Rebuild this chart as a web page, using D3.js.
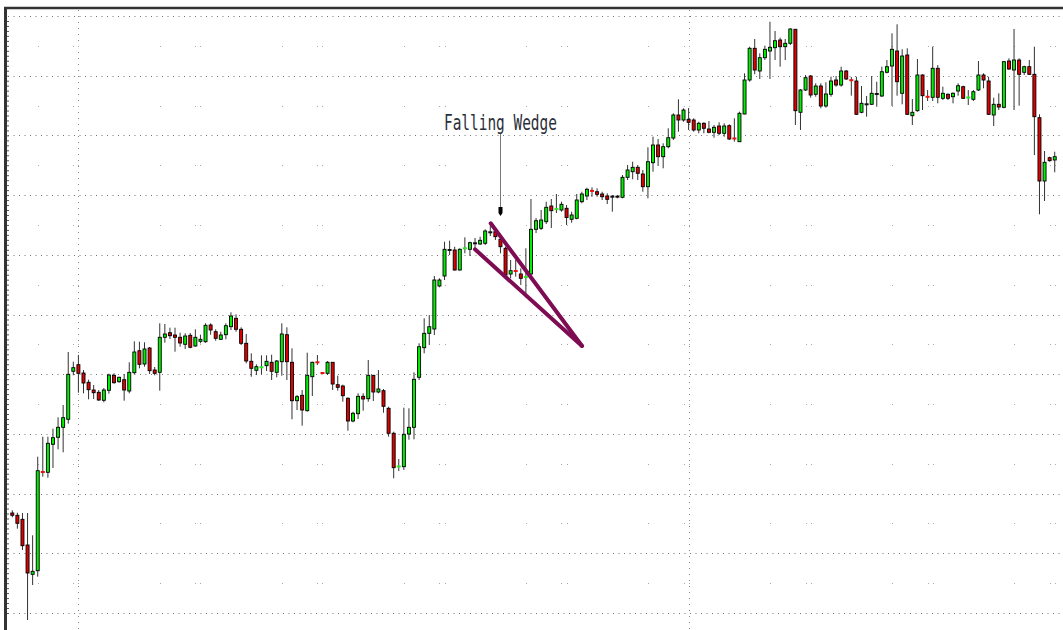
<!DOCTYPE html>
<html lang="en">
<head>
  <meta charset="utf-8">
  <title>Falling Wedge</title>
  <script src="https://cdn.jsdelivr.net/npm/d3@7"></script>
  <style>
  body{ margin:0; background:#fff; }
  svg{ display:block; }
  </style>
</head>
<body>
<script>
// bar prices (one value per bar, oldest first)
var open = [1500,1497.7,1493.7,1468,1438.7,1442.3,1541.3,1540.7,1568.7,1575.7,
1585.7,1593.7,1641.7,1648.3,1640,1630.7,1623,1620.7,1612.7,1622.7,
1637.7,1631.3,1633.3,1622,1640.3,1662.3,1649,1665,1643,1640.7,
1675.7,1680.3,1678,1675.7,1668.7,1677.7,1667,1671.7,1671.3,1688,
1681.3,1673.7,1678.3,1686.3,1694.7,1683.7,1669.7,1651.7,1642.7,1645.3,
1647.3,1650.7,1640.7,1651.3,1678.3,1650.7,1612.3,1617.7,1602.3,1636.3,
1651,1640.3,1639.7,1650.7,1628.3,1627,1614.7,1592,1599.3,1616.7,
1614.3,1637.7,1621,1622.3,1604.7,1579.7,1546.2,1546.3,1579,1585.7,
1635.7,1665.3,1679.7,1684,1727,1737,1763,1763,1743,1764.3,
1763.7,1769.7,1769,1769.7,1780.7,1781.3,1773.7,1764.7,1739,1742.3,
1739,1735.5,1739,1783.7,1784.7,1791.3,1807,1803.5,1803,1804.7,
1793.7,1794.7,1811.3,1817,1822.4,1821.3,1819,1817,1816.3,1816.3,
1815.7,1835.7,1841.3,1845.7,1839,1826.3,1850.3,1868,1856.3,1866.3,
1875,1898,1893,1893.7,1893,1883,1889.7,1884,1880.7,1887,
1879.7,1887.3,1874.8,1871.3,1899,1933,1964.7,1942,1955.3,1962,
1965.3,1973,1966.3,1969.7,1983.7,1900.7,1923,1937,1918.7,1927,
1907,1918.7,1933,1928,1942,1933.1,1932,1900.7,1908.7,1908.7,
1919,1917,1940.7,1947,1962,1919.7,1958,1897.3,1902.3,1938,
1916.5,1915.7,1944.7,1914.7,1918.7,1916.3,1922,1926.3,1915.2,1913.7,
1923,1938,1932,1898,1908.7,1905.7,1952,1943,1953,1940.7,
1946.3,1938.7,1895.3,1832,1855.3,1853];

var high = [1502.7,1500.3,1500,1500,1477.7,1556.3,1576.3,1576.3,1584.3,1595.7,
1608,1661,1651.3,1658,1643,1633.3,1628,1623,1625,1639.3,
1639.7,1636.3,1639,1650.7,1671.7,1671.3,1670.7,1666,1646,1689.7,
1689,1685.3,1685.3,1680.3,1679.7,1680,1683.7,1678.3,1689.7,1689.7,
1683.7,1681.3,1689.7,1700.7,1698.7,1685.7,1679,1659.7,1648.7,1657.7,
1657.7,1658.3,1653,1689.7,1685.7,1664.7,1618,1623,1660.3,1651.3,
1658,1641,1652,1651,1637.3,1628.3,1615.7,1601.3,1619.7,1619.7,
1653,1638,1643,1624,1606.3,1581.3,1554,1605.3,1604.7,1640.7,
1669.7,1694.7,1698,1737,1734.7,1771.3,1772.3,1766.3,1764.7,1775.7,
1771.3,1775,1776.3,1783.7,1787.3,1784.7,1778,1766.3,1753,1753,
1744.7,1764.7,1814,1795,1803,1811.3,1814,1819,1811.3,1808,
1801.3,1819,1821.3,1825.3,1825.7,1824.7,1821.3,1819.7,1818,1818,
1838,1848,1851.3,1848,1843,1865.7,1876.3,1874,1869.7,1884.7,
1899.7,1913.7,1904.7,1905,1894.7,1891.3,1890.7,1892,1888,1890.7,
1889.7,1888.7,1894.7,1901.3,1939.7,1966.3,1974,1959.7,1967.3,1991.3,
1982,1975.3,1974,1984.7,1984,1924,1938,1938,1929.7,1929.7,
1930.7,1936.3,1937,1946.3,1943,1936,1936.3,1927,1917,1937,
1931.3,1946.3,1953,1979.7,1988.7,1963.7,1964.7,1914,1954,1938.7,
1923,1966.3,1948,1926.3,1919.7,1920.7,1929.7,1927.3,1923,1923,
1952,1939.7,1936.3,1915.3,1919.7,1952,1954.7,1984,1954.7,1947.3,
1953,1966.3,1898.7,1862,1856.3,1861.3];

var low = [1495.7,1484.3,1463,1393,1428,1436.3,1536.3,1535.3,1545,1563.7,
1560.7,1589.3,1637.7,1620.3,1619.7,1613.7,1614,1612,1610.7,1619.3,
1629.3,1630.3,1612.3,1619.7,1638.7,1644.7,1646.3,1639,1637.7,1622.3,
1670.3,1674,1661.3,1666.3,1664,1664.7,1666.3,1669.7,1670.3,1678.3,
1672.3,1673,1673.7,1683,1681.3,1668,1649.7,1636.3,1638,1638.7,
1642,1633,1635.7,1637.3,1633,1593.7,1603,1587.3,1601.3,1617,
1648,1639.3,1638,1623,1622.3,1611.3,1582.3,1590.7,1594,1602.3,
1611.3,1612,1619.7,1600.3,1576.3,1534.7,1542,1543,1573.3,1573.7,
1633,1659.7,1668,1678,1725.7,1733,1758,1742.3,1742.3,1759.7,
1757,1763.3,1768,1768,1777,1773,1759.7,1736.3,1734.7,1736.3,
1728,1719.7,1733,1780,1783,1789,1785,1800,1801.3,1788,
1790.3,1793.7,1809.7,1813,1816.3,1816.3,1813,1809,1801.3,1814.7,
1814.7,1833,1833.7,1833,1821.3,1814.7,1841.3,1847,1844.7,1864.7,
1873,1881.3,1891.3,1883,1881.3,1879.7,1879.7,1879.7,1875.3,1878,
1876.3,1873,1871.3,1871.3,1898.7,1931.3,1938.7,1934,1953,1934,
1953,1946.3,1953,1968,1888,1883,1922,1915.3,1916.3,1904.7,
1905.3,1916.3,1926.3,1926.3,1933,1917.3,1898,1899.7,1896.3,1908,
1906.3,1916,1939.7,1907,1917.3,1908.7,1898,1888,1901.3,1903,
1912,1912,1909.7,1913,1913,1909.7,1917.3,1914,1908,1912,
1922,1924.7,1898,1887,1903,1904.7,1943,1903,1907.3,1938,
1938,1858,1798.7,1812,1851.3,1840.7];

var close = [1497.7,1489.7,1467.3,1440,1441.7,1542.3,1541,1569.7,1575.3,1585.7,
1595.3,1638.7,1645.3,1639.7,1630,1623.3,1620.3,1613,1623,1638,
1630.3,1635.7,1623,1640.7,1661,1648.7,1664,1642.3,1639.7,1675.7,
1679,1677.3,1675.7,1670,1677,1665.7,1675.7,1673.7,1687.7,1683,
1674.7,1678,1687.3,1697,1683.7,1669.7,1652,1644.7,1646.3,1645.7,
1651.7,1641.7,1652,1679,1651.3,1612.3,1616.3,1603,1637.7,1650.7,
1650.7,1640,1650.7,1629,1625.7,1617.3,1592,1599.7,1616.7,1614,
1637.7,1621,1624,1606.7,1579.7,1545.3,1546.5,1578.7,1585.7,1633.7,
1666.3,1679.7,1686.3,1733,1733,1763.7,1763,1743,1763.7,1764.7,
1770.3,1769.7,1772.7,1782,1780.7,1776.3,1766.3,1738,1742.3,1742,
1734.7,1735.9,1783.7,1792.3,1793,1805.7,1802.3,1803.9,1808.7,1795.5,
1798,1813,1819,1823.7,1822.1,1818.7,1816.3,1813.7,1816.3,1816.3,
1835.7,1843,1845.7,1839.7,1826.3,1851.3,1868,1856.3,1866.3,1875.3,
1898,1893,1903,1890.7,1883,1889.7,1884.7,1880.7,1885.7,1879.7,
1887,1874,1874.5,1899.7,1933,1964.7,1943,1955.3,1963.7,1965.7,
1972.3,1966.3,1969.7,1984,1902.3,1923,1935.3,1918,1927,1907,
1919,1932,1928,1942,1934,1932.8,1898.7,1909.7,1908.7,1919.7,
1919,1941.3,1946.3,1963.7,1931.3,1957,1898.7,1900.7,1938,1917.3,
1916.2,1944.7,1915.7,1919.7,1914.7,1919.7,1927.3,1914.7,1915.5,1921.3,
1938,1933,1898.7,1908.7,1906,1951.3,1944,1953,1938.7,1946.3,
1938.7,1896.3,1832,1850.7,1852.3,1856.3];

// price grid levels (unlabelled) and vertical separators (bar index)
var gridLevels = [1400,1459.7,1519.4,1579.1,1638.8,1698.5,1758.2,1817.9,1877.6,1937.3,1997];
var separatorBars = [13, 133];
var sessionBars = [5,12,13,29,36,37,53,60,61,77,84,85,101,108,109,125,132,133,149,156,157,173,180,181,197,204,205];

// pattern drawn on the chart: [bar, price]
var wedgeUpper = [[94.08,1789.7],[112.04,1667]];
var wedgeLower = [[90.99,1763.7],[112.04,1667]];
var noteLabel = "Falling Wedge";
var noteBar = 96;
var notePrice = 1883.5;
var arrowFrom = 1880;
var arrowTo = 1797;

var width = 1063;
var height = 630;
var n = open.length;

var svg = d3.select("body")
  .append("svg")
  .attr("width", width)
  .attr("height", height);

var x = d3.scaleLinear()
  .domain([0, n - 1])
  .range([12.3, 12.3 + 5.085 * (n - 1)]);

var y = d3.scaleLinear()
  .domain([1400, 1997])
  .range([613, 16]);

// grid
var grid = svg.append("g");
grid.selectAll("line.h")
  .data(gridLevels)
  .enter()
  .append("line")
  .attr("x1", 8).attr("x2", width)
  .attr("y1", d => Math.round(y(d)) + 0.5)
  .attr("y2", d => Math.round(y(d)) + 0.5)
  .attr("stroke", "#777")
  .attr("stroke-dasharray", "1,4.5");

grid.selectAll("line.v")
  .data(separatorBars)
  .enter()
  .append("line")
  .attr("x1", d => Math.round(x(d)) + 0.5)
  .attr("x2", d => Math.round(x(d)) + 0.5)
  .attr("y1", 10).attr("y2", height)
  .attr("stroke", "#888")
  .attr("stroke-dasharray", "1,5");

// faint session dots on the half-grid rows
var halfLevels = d3.pairs(gridLevels).map(p => (p[0] + p[1]) / 2);
var dots = [];
halfLevels.forEach(function(lv){
  sessionBars.forEach(function(b){ dots.push([b, lv]); });
});
grid.selectAll("rect.dot")
  .data(dots)
  .enter()
  .append("rect")
  .attr("x", d => Math.round(x(d[0])))
  .attr("y", d => Math.round(y(d[1])))
  .attr("width", 1).attr("height", 1)
  .attr("fill", "#aaa");

// candles
var bars = d3.range(n);
var candles = svg.append("g");

candles.selectAll("line.wick")
  .data(bars)
  .enter()
  .append("line")
  .attr("x1", i => x(i)).attr("x2", i => x(i))
  .attr("y1", i => y(high[i]))
  .attr("y2", i => y(low[i]))
  .attr("stroke", "#333")
  .attr("stroke-width", 1);

function isDoji(i){
  return Math.abs(y(open[i]) - y(close[i])) < 1.2;
}

candles.selectAll("rect.body")
  .data(bars.filter(i => !isDoji(i)))
  .enter()
  .append("rect")
  .attr("x", i => x(i) - 1.5)
  .attr("width", 3)
  .attr("y", i => y(Math.max(open[i], close[i])))
  .attr("height", i => Math.abs(y(open[i]) - y(close[i])))
  .attr("fill", i => close[i] > open[i] ? "#00f000" : "#e00000")
  .attr("stroke", "#000")
  .attr("stroke-width", 0.9);

candles.selectAll("rect.doji")
  .data(bars.filter(isDoji))
  .enter()
  .append("rect")
  .attr("x", i => x(i) - 2)
  .attr("width", 4)
  .attr("y", i => y(close[i]) - 1)
  .attr("height", 2)
  .attr("fill", i => close[i] > open[i] ? "#22ee22" : (close[i] < open[i] ? "#ee1111" : "#111"));

// wedge
var line = d3.line().x(d => x(d[0])).y(d => y(d[1]));
svg.selectAll("path.wedge")
  .data([wedgeUpper, wedgeLower])
  .enter()
  .append("path")
  .attr("d", line)
  .attr("fill", "none")
  .attr("stroke", "#7d0c52")
  .attr("stroke-width", 4)
  .attr("stroke-linecap", "round");

// note + arrow
var ax = Math.round(x(noteBar)) + 0.5;
svg.append("line")
  .attr("x1", ax).attr("x2", ax)
  .attr("y1", y(arrowFrom)).attr("y2", y(arrowTo) - 6)
  .attr("stroke", "#777");
var tip = y(arrowTo);
svg.append("path")
  .attr("d", "M" + (ax - 2) + "," + (tip - 9) + "L" + (ax + 2) + "," + (tip - 9) +
             "L" + (ax + 2) + "," + (tip - 3) + "L" + ax + "," + tip + "L" + (ax - 2) + "," + (tip - 3) + "Z")
  .attr("fill", "#000");

svg.append("text")
  .attr("x", x(noteBar))
  .attr("y", y(notePrice))
  .attr("text-anchor", "middle")
  .attr("font-family", "DejaVu Sans Mono, Liberation Mono, monospace")
  .attr("font-size", 21)
  .attr("textLength", 113)
  .attr("lengthAdjust", "spacingAndGlyphs")
  .attr("fill", "#2b2f3a")
  .text(noteLabel);

// frame and price ticks
var ticks = [];
d3.pairs(gridLevels).forEach(function(p){
  for (var k = 0; k < 12; k++) ticks.push(p[0] + (p[1] - p[0]) * k / 12);
});
svg.append("g")
  .attr("transform", "translate(7,0)")
  .call(d3.axisRight(y).tickValues(ticks).tickSize(2).tickFormat(""))
  .call(g => g.select(".domain").remove())
  .selectAll("line").attr("stroke", "#555");

svg.append("line")
  .attr("x1", 4).attr("x2", width)
  .attr("y1", 8).attr("y2", 8)
  .attr("stroke", "#333").attr("stroke-width", 2.5);
svg.append("line")
  .attr("x1", 5.5).attr("x2", 5.5)
  .attr("y1", 7).attr("y2", height)
  .attr("stroke", "#333").attr("stroke-width", 3);
</script>
</body>
</html>
